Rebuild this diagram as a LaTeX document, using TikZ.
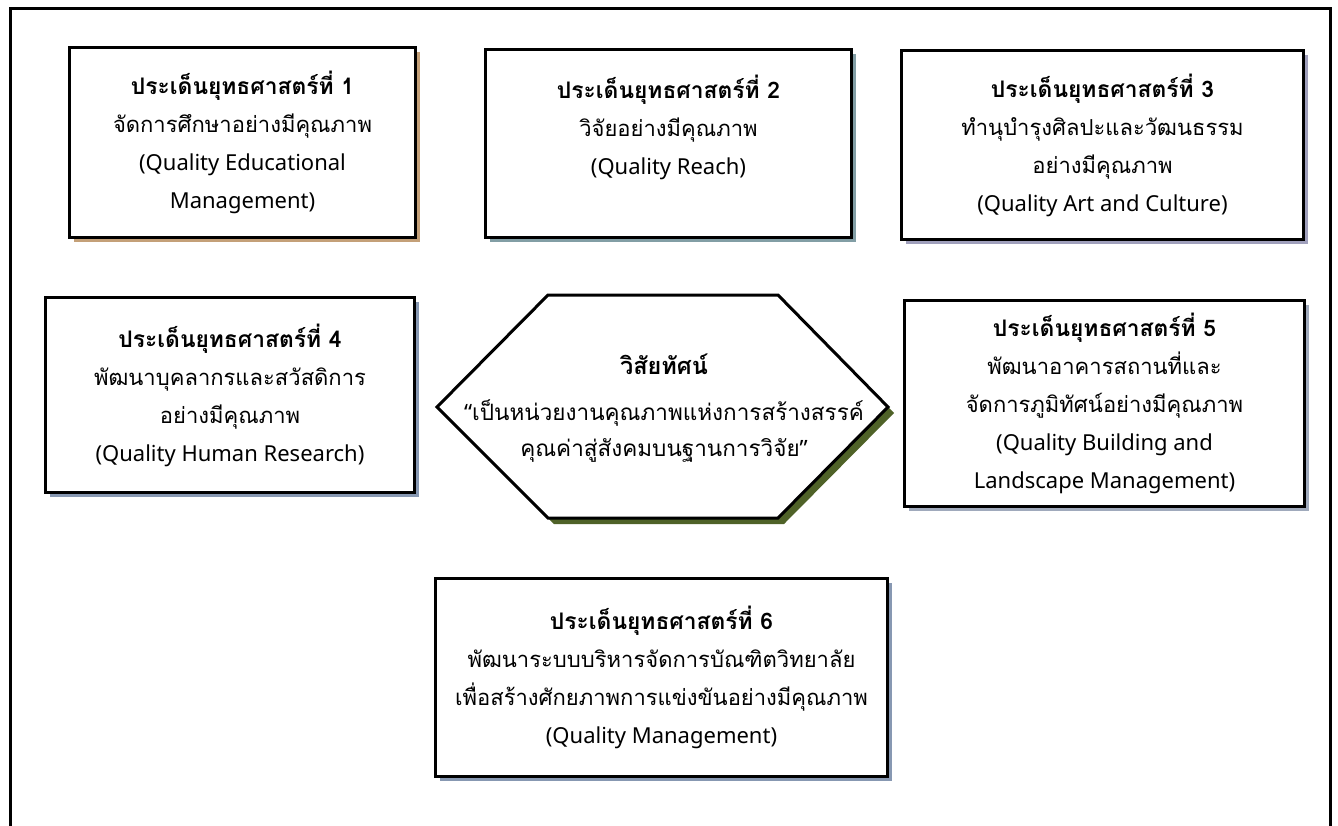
\documentclass[tikz,border=0pt]{standalone}
\usepackage{fontspec}
\setmainfont[Script=Thai]{Loma}
\newfontfamily\thaifont[Script=Thai]{Loma}
\newfontfamily\latfont{Noto Sans}
\newcommand{\lat}[1]{{\latfont\fontsize{22}{38}\selectfont #1}}
\newcommand{\ttl}[1]{{\bfseries\fontsize{22.8}{38}\selectfont #1}}
\definecolor{shtan}{RGB}{196,160,120}
\definecolor{shteal}{RGB}{130,158,165}
\definecolor{shlav}{RGB}{160,160,188}
\definecolor{shblue}{RGB}{135,152,178}
\definecolor{shgray}{RGB}{160,170,188}
\definecolor{sholive}{RGB}{79,98,40}
\tikzset{
  stratbox/.style={draw=black, line width=3pt, fill=white, inner sep=0pt},
  frameline/.style={line width=3pt, draw=black},
  hexline/.style={line width=3pt, draw=black, fill=white, line join=miter},
  txt/.style={align=center, font=\thaifont\fontsize{22}{38}\selectfont, inner sep=0pt}
}
\newcommand{\bx}[7]{%
  % #1 name, #2 x1, #3 y1, #4 x2, #5 y2, #6 shadow color, #7 text
  \fill[#6] (#2+6,#3+6) rectangle (#4+6,#5+6);
  \node[stratbox, minimum width=#4-#2, minimum height=#5-#3, anchor=north west] (#1) at (#2,#3) {};
  \node[txt] (#1t) at (#1.center) {#7};
}
\begin{document}
\begin{tikzpicture}[x=1pt,y=-1pt]
\useasboundingbox (0,0) rectangle (1338,825);
% outer frame
\coordinate (fbl) at (10,826);
\coordinate (ftl) at (10,8);
\coordinate (ftr) at (1330,8);
\coordinate (fbr) at (1330,826);
\draw[frameline] (fbl) -- (ftl) -- (ftr) -- (fbr);

\bx{s1}{68}{46}{414}{236}{shtan}{\ttl{ประเด็นยุทธศาสตร์ที่ 1}\\จัดการศึกษาอย่างมีคุณภาพ\\\lat{(Quality Educational}\\\lat{Management)}}
\bx{s2}{484}{48}{850}{236}{shteal}{\ttl{ประเด็นยุทธศาสตร์ที่ 2}\\วิจัยอย่างมีคุณภาพ\\\lat{(Quality Reach)}\\\mbox{}}
\bx{s3}{900}{49}{1302}{238}{shlav}{\ttl{ประเด็นยุทธศาสตร์ที่ 3}\\ทำนุบำรุงศิลปะและวัฒนธรรม\\อย่างมีคุณภาพ\\\lat{(Quality Art and Culture)}}
\bx{s4}{44}{296}{413}{491}{shblue}{\ttl{ประเด็นยุทธศาสตร์ที่ 4}\\พัฒนาบุคลากรและสวัสดิการ\\อย่างมีคุณภาพ\\\lat{(Quality Human Research)}}
\bx{s5}{903}{299}{1303}{505}{shgray}{\ttl{ประเด็นยุทธศาสตร์ที่ 5}\\พัฒนาอาคารสถานที่และ\\จัดการภูมิทัศน์อย่างมีคุณภาพ\\\lat{(Quality Building and}\\\lat{Landscape Management)}}
\bx{s6}{434}{577}{886}{775}{shblue}{\ttl{ประเด็นยุทธศาสตร์ที่ 6}\\พัฒนาระบบบริหารจัดการบัณฑิตวิทยาลัย\\เพื่อสร้างศักยภาพการแข่งขันอย่างมีคุณภาพ\\\lat{(Quality Management)}}

% hexagon vision
\coordinate (hl) at (437,407);
\coordinate (htl) at (548,295);
\coordinate (htr) at (778,295);
\coordinate (hr) at (888,407);
\coordinate (hbr) at (778,518);
\coordinate (hbl) at (548,518);
\fill[sholive] ([shift={(6,6)}]hl) -- ([shift={(6,6)}]htl) -- ([shift={(6,6)}]htr) -- ([shift={(6,6)}]hr) -- ([shift={(6,6)}]hbr) -- ([shift={(6,6)}]hbl) -- cycle;
\draw[hexline] (hl) -- (htl) -- (htr) -- (hr) -- (hbr) -- (hbl) -- cycle;
\node[txt, font=\thaifont\fontsize{22.5}{36}\selectfont] (vision) at (664,408) {{\fontsize{23.5}{36}\selectfont\textbf{วิสัยทัศน์}}\\[10pt]{\latfont“}เป็นหน่วยงานคุณภาพแห่งการสร้างสรรค์\\คุณค่าสู่สังคมบนฐานการวิจัย{\latfont”}};
\end{tikzpicture}
\end{document}
